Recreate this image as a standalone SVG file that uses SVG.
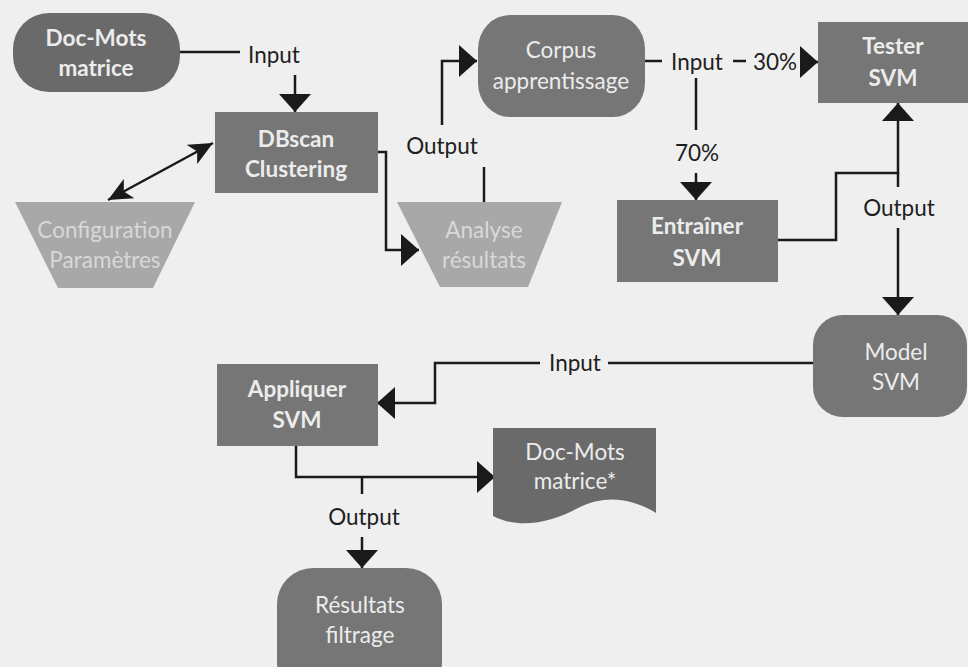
<svg xmlns="http://www.w3.org/2000/svg" width="968" height="667" viewBox="0 0 968 667">
  <defs>
    <style>
      .bg { fill: #efefef; }
      .dark { fill: #767676; }
      .darker { fill: #6a6a6a; }
      .light { fill: #a8a8a8; }
      .nt { font-family: Lato, "Liberation Sans", sans-serif; font-size: 22.5px; fill: #ececec; text-anchor: middle; }
      .b { font-weight: bold; }
      .lt { fill: #d8d8d8; }
      .lbl { font-family: Lato, "Liberation Sans", sans-serif; font-size: 22.5px; fill: #1e1e1e; text-anchor: middle; }
      .wire { fill: none; stroke: #1a1a1a; stroke-width: 2.5; }
      .arrow { fill: none; stroke: #1a1a1a; stroke-width: 2.5; marker-end: url(#head); }
    </style>
    <marker id="head" viewBox="0 0 18 32" refX="18" refY="16" markerWidth="18" markerHeight="32" markerUnits="userSpaceOnUse" orient="auto">
      <path d="M0,0 L18,16 L0,32 Z" fill="#1a1a1a"/>
    </marker>
    <marker id="barb" viewBox="0 0 24 22" refX="24" refY="11" markerWidth="24" markerHeight="22" markerUnits="userSpaceOnUse" orient="auto-start-reverse">
      <path d="M0,0 L24,11 L0,22 L6,11 Z" fill="#1a1a1a"/>
    </marker>
  </defs>

  <rect class="bg" x="0" y="0" width="968" height="667"/>

  <!-- connectors -->
  <g id="connectors">
    <!-- Doc-Mots matrice -> Input -> DBscan -->
    <path class="wire" d="M180,52 H240"/>
    <path class="arrow" d="M295,75 V112"/>
    <!-- DBscan <-> Configuration -->
    <path class="wire" d="M213,143 L108,200" marker-start="url(#barb)" marker-end="url(#barb)"/>
    <!-- DBscan -> Analyse -->
    <path class="arrow" d="M378,152 H386 V250 H419"/>
    <!-- Analyse -> Output -> Corpus -->
    <path class="wire" d="M484,202 V167"/>
    <path class="arrow" d="M442,125 V61 H477"/>
    <!-- Corpus -> Input -> 30% / 70% -->
    <path class="wire" d="M645,61 H662"/>
    <path class="wire" d="M733,61 H746"/>
    <path class="arrow" d="M800,62 H818"/>
    <path class="wire" d="M696,78 V130"/>
    <path class="arrow" d="M696,173 V200"/>
    <!-- Entraîner -> Tester, Output -> Model -->
    <path class="arrow" d="M778,240 H836 V173 H898 V103"/>
    <path class="wire" d="M898,173 V187"/>
    <path class="arrow" d="M898,228 V315"/>
    <!-- Model -> Input -> Appliquer -->
    <path class="wire" d="M813,363 H608"/>
    <path class="arrow" d="M540,363 H435 V403 H377"/>
    <!-- Appliquer -> Doc-Mots matrice*, Output -> Résultats -->
    <path class="arrow" d="M296,446 V477 H495"/>
    <path class="wire" d="M362,477 V494"/>
    <path class="arrow" d="M362,537 V568"/>
  </g>

  <!-- connector labels -->
  <g id="labels">
    <text class="lbl" x="274" y="63">Input</text>
    <text class="lbl" x="442" y="154">Output</text>
    <text class="lbl" x="697" y="70">Input</text>
    <text class="lbl" x="775" y="70">30%</text>
    <text class="lbl" x="697" y="161">70%</text>
    <text class="lbl" x="899" y="216">Output</text>
    <text class="lbl" x="575" y="371">Input</text>
    <text class="lbl" x="364" y="525">Output</text>
  </g>

  <g id="docmots">
    <rect class="darker" x="13" y="13" width="167" height="79" rx="36" ry="36"/>
    <text class="nt b" x="96" y="46">Doc-Mots</text>
    <text class="nt b" x="96" y="76">matrice</text>
  </g>

  <g id="dbscan">
    <rect class="dark" x="215" y="112" width="163" height="81"/>
    <text class="nt b" x="296" y="147">DBscan</text>
    <text class="nt b" x="296" y="177">Clustering</text>
  </g>

  <g id="configuration">
    <polygon class="light" points="15,202 195,202 153,288 58,288"/>
    <text class="nt lt" x="105" y="238">Configuration</text>
    <text class="nt lt" x="105" y="268">Paramètres</text>
  </g>

  <g id="analyse">
    <polygon class="light" points="397,202 562,202 528,287 440,287"/>
    <text class="nt lt" x="484" y="238">Analyse</text>
    <text class="nt lt" x="484" y="268">résultats</text>
  </g>

  <g id="corpus">
    <rect class="dark" x="478" y="15" width="167" height="102" rx="32" ry="34"/>
    <text class="nt" x="561" y="58">Corpus</text>
    <text class="nt" x="561" y="89">apprentissage</text>
  </g>

  <g id="tester">
    <rect class="dark" x="818" y="22" width="160" height="81"/>
    <text class="nt b" x="893" y="54">Tester</text>
    <text class="nt b" x="893" y="86">SVM</text>
  </g>

  <g id="entrainer">
    <rect class="dark" x="617" y="200" width="161" height="82"/>
    <text class="nt b" x="697" y="234">Entraîner</text>
    <text class="nt b" x="697" y="266">SVM</text>
  </g>

  <g id="model">
    <rect class="dark" x="813" y="315" width="154" height="102" rx="30" ry="30"/>
    <text class="nt" x="896" y="360">Model</text>
    <text class="nt" x="896" y="390">SVM</text>
  </g>

  <g id="appliquer">
    <rect class="dark" x="217" y="364" width="161" height="82"/>
    <text class="nt b" x="297" y="397">Appliquer</text>
    <text class="nt b" x="297" y="428">SVM</text>
  </g>

  <g id="docmots2">
    <path class="darker" d="M493,428 H656 V513 C630,497 604,495 578,508 C552,522 520,530 493,516 Z"/>
    <text class="nt" x="575" y="460">Doc-Mots</text>
    <text class="nt" x="575" y="489">matrice*</text>
  </g>

  <g id="resultats">
    <rect class="dark" x="277" y="568" width="165" height="130" rx="36" ry="36"/>
    <text class="nt" x="360" y="613">Résultats</text>
    <text class="nt" x="360" y="643">filtrage</text>
  </g>
</svg>
